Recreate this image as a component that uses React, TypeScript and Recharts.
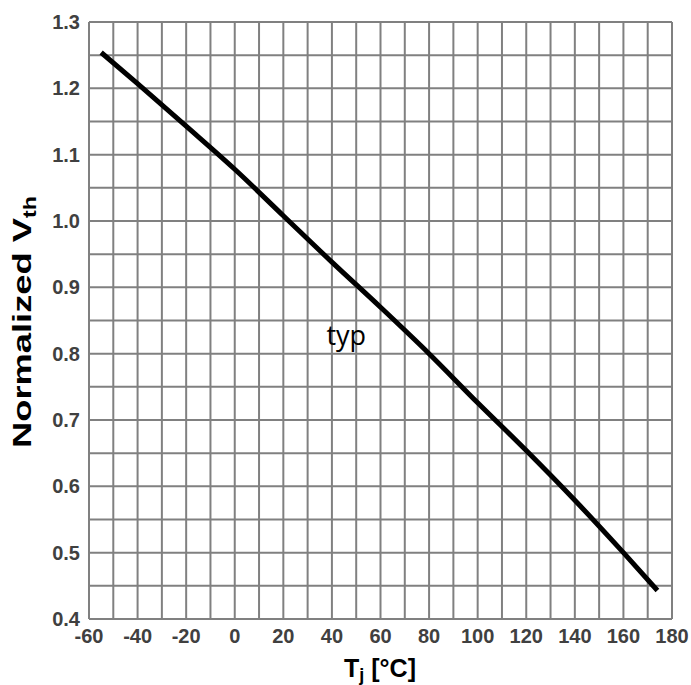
import React from 'react';
import {
  LineChart,
  Line,
  XAxis,
  YAxis,
  ReferenceLine,
  ReferenceArea,
} from 'recharts';

// junction temperature [°C] and normalized threshold voltage (typical curve)
const tj = [-55, -40, -20, 0, 20, 40, 60, 80, 100, 120, 140, 160, 174];
const vthNorm = [1.254, 1.207, 1.143, 1.078, 1.008, 0.938, 0.87, 0.8, 0.726, 0.654, 0.579, 0.5, 0.443];

const xTicks = [-60, -40, -20, 0, 20, 40, 60, 80, 100, 120, 140, 160, 180];
const yTicks = [0.4, 0.5, 0.6, 0.7, 0.8, 0.9, 1.0, 1.1, 1.2, 1.3];
// finer grid: every 10 °C and every 0.05
const xGrid = [-60, -50, -40, -30, -20, -10, 0, 10, 20, 30, 40, 50, 60, 70, 80, 90, 100, 110, 120, 130, 140, 150, 160, 170, 180];
const yGrid = [0.4, 0.45, 0.5, 0.55, 0.6, 0.65, 0.7, 0.75, 0.8, 0.85, 0.9, 0.95, 1.0, 1.05, 1.1, 1.15, 1.2, 1.25, 1.3];

const curveLabel = 'typ';

const data = tj.map((t, i) => ({ t, v: vthNorm[i] }));

const FONT = '"Liberation Sans", Arial, sans-serif';
const tickStyle = { fontFamily: FONT, fontSize: 20, fontWeight: 700, fill: '#404040' };
const GRID = '#808080';

export default function App() {
  return (
    <div style={{ position: 'absolute', left: 0, top: 0, width: 691, height: 685, background: '#fff' }}>
      <LineChart width={691} height={685} data={data} margin={{ top: 22, right: 19, bottom: 0, left: 0 }}>
        <XAxis
          dataKey="t"
          type="number"
          domain={[-60, 180]}
          ticks={xTicks}
          height={66}
          axisLine={false}
          tickLine={false}
          tickSize={0}
          tickMargin={10}
          tick={tickStyle}
          interval={0}
          label={{
            content: () => (
              <text x={380} y={677} textAnchor="middle" fontFamily={FONT} fontWeight={700} fontSize={25} fill="#000">
                T
                <tspan fontSize={18} dy={4}>j</tspan>
                <tspan dy={-4}> [°C]</tspan>
              </text>
            ),
          }}
        />
        <YAxis
          type="number"
          domain={[0.4, 1.3]}
          ticks={yTicks}
          width={89}
          axisLine={false}
          tickLine={false}
          tickSize={0}
          tickMargin={9}
          tick={tickStyle}
          interval={0}
          tickFormatter={(v: number) => v.toFixed(1)}
          label={{
            content: () => (
              // rotated title, stretched along its run to span the plot's middle
              <text
                x={31}
                y={448}
                transform="rotate(-90 31 448)"
                textAnchor="start"
                fontFamily={FONT}
                fontWeight={700}
                fontSize={26}
                fill="#000"
              >
                <tspan textLength={230} lengthAdjust="spacingAndGlyphs">Normalized V</tspan>
                <tspan fontSize={19} dy={5} textLength={22} lengthAdjust="spacingAndGlyphs">th</tspan>
              </text>
            ),
          }}
        />
        {xGrid.map((x) => (
          <ReferenceLine key={`gx${x}`} x={x} stroke={GRID} strokeWidth={2} />
        ))}
        {yGrid.map((y) => (
          <ReferenceLine key={`gy${y}`} y={y} stroke={GRID} strokeWidth={2} />
        ))}
        <ReferenceArea
          x1={36.2}
          x2={55.6}
          y1={0.798}
          y2={0.858}
          fill="#fff"
          fillOpacity={1}
          stroke="none"
          label={{ value: curveLabel, position: 'center', fill: '#000', fontSize: 27, fontFamily: '"Open Sans", sans-serif' }}
        />
        <Line
          dataKey="v"
          type="monotone"
          stroke="#000"
          strokeWidth={5}
          dot={false}
          activeDot={false}
          isAnimationActive={false}
        />
      </LineChart>
    </div>
  );
}
